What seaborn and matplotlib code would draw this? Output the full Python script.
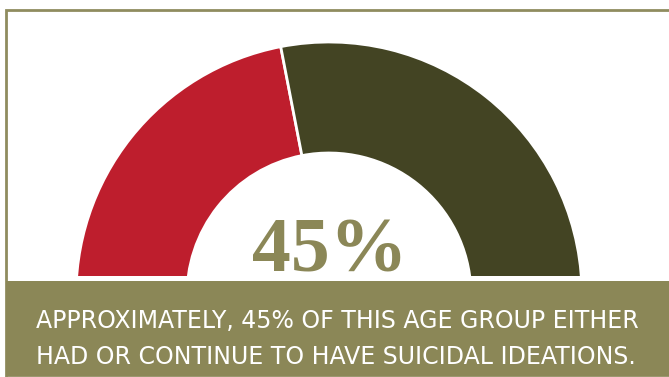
import matplotlib
matplotlib.use("Agg")
import seaborn as sns
import matplotlib.pyplot as plt
from matplotlib.patches import Rectangle

# Data
labels = ["Had / have suicidal ideations", "Did not"]
shares = [45, 55]
gauge_colors = ["#be1e2d", "#434423"]
big_label = "45%"
caption = ["APPROXIMATELY, 45% OF THIS AGE GROUP EITHER",
           "HAD OR CONTINUE TO HAVE SUICIDAL IDEATIONS."]

olive = "#8b8757"

sns.set_theme(style="white")
plt.rcParams["font.family"] = ["DejaVu Sans"]

fig = plt.figure(figsize=(6.69, 3.77), dpi=100)
ax = fig.add_axes([0, 0, 1, 1])

# half donut: hidden lower half makes the gauge
vals = shares + [sum(shares)]
wedges, _ = ax.pie(vals, colors=gauge_colors + ["none"], startangle=182,
                   counterclock=False, center=(329, 82), radius=253,
                   wedgeprops=dict(width=111, edgecolor="white", linewidth=2))
wedges[-1].set_edgecolor("none")

ax.set_xlim(0, 669)
ax.set_ylim(0, 377)
ax.set_aspect("auto")
ax.axis("off")

# cut the bottom of the gauge
ax.add_patch(Rectangle((40, 0), 600, 101, facecolor="white", edgecolor="none", zorder=3))

# frame and banner
ax.add_patch(Rectangle((6, 0), 700, 367, facecolor="none", edgecolor="#8f8c5f",
                       linewidth=2, zorder=4))
ax.add_patch(Rectangle((6, 1), 700, 95, facecolor=olive, edgecolor="none", zorder=5))

ax.text(330, 105, big_label, ha="center", va="baseline", fontsize=56,
        fontweight="bold", color=olive, family=["Liberation Serif", "DejaVu Serif"],
        zorder=6)

# caption text, sized so the first line spans the banner like the original
fams = ["Liberation Sans Narrow", "DejaVu Sans"]
t1 = ax.text(36, 49, caption[0], ha="left", va="baseline", fontsize=24,
             color="white", family=fams, zorder=6)
t2 = ax.text(36, 13, caption[1], ha="left", va="baseline", fontsize=24,
             color="white", family=fams, zorder=6)
fig.canvas.draw()
w = t1.get_window_extent().width
size = 24 * 600 / w
t1.set_fontsize(size)
t2.set_fontsize(size)

fig.savefig("out.png", dpi=100)
